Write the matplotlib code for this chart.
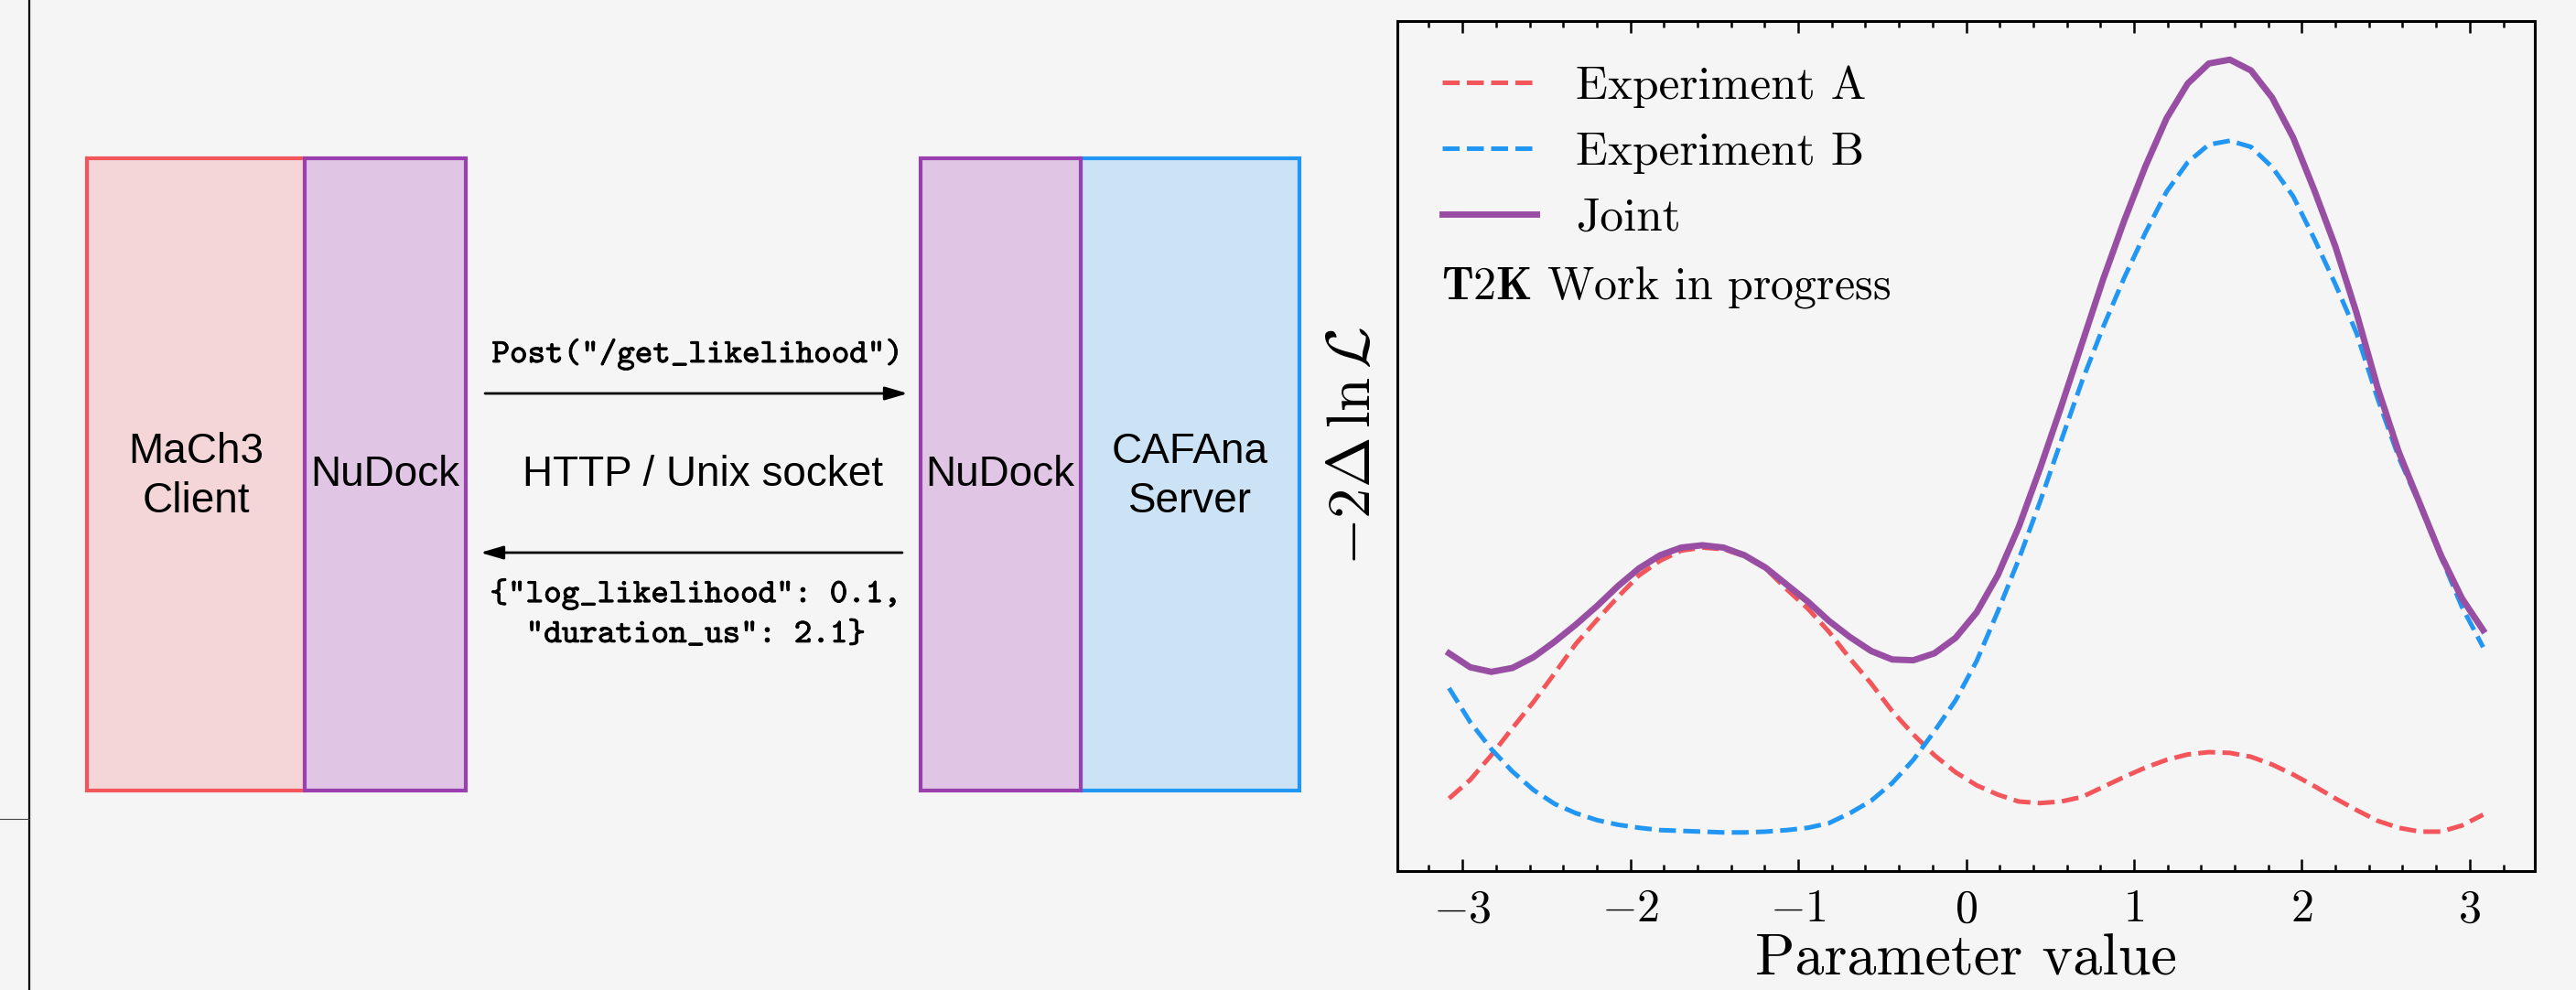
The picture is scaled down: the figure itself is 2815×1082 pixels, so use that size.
import numpy as np
import matplotlib
matplotlib.use("Agg")
import matplotlib.pyplot as plt
import matplotlib.patheffects as pe
from matplotlib.patches import Rectangle
from matplotlib.ticker import MultipleLocator

plt.rcParams['mathtext.fontset'] = 'cm'
plt.rcParams['font.family'] = 'serif'
plt.rcParams['font.serif'] = ['cmr10']
plt.rcParams['axes.formatter.use_mathtext'] = True

# -2 delta lnL profiles
param = np.linspace(-3.08, 3.08, 50)
exp_a = [0.45, 0.69, 1.01, 1.36, 1.70, 2.07, 2.45, 2.76, 3.06, 3.34,
         3.53, 3.66, 3.70, 3.68, 3.59, 3.43, 3.16, 2.91, 2.61, 2.26,
         1.94, 1.58, 1.28, 1.01, 0.79, 0.62, 0.50, 0.41, 0.39, 0.41,
         0.47, 0.60, 0.73, 0.85, 0.95, 1.02, 1.05, 1.04, 0.99, 0.89,
         0.76, 0.61, 0.45, 0.30, 0.16, 0.07, 0.02, 0.02, 0.10, 0.24]
exp_b = [1.88, 1.44, 1.09, 0.80, 0.56, 0.38, 0.26, 0.17, 0.11, 0.07,
         0.04, 0.03, 0.02, 0.01, 0.01, 0.02, 0.04, 0.07, 0.13, 0.26,
         0.42, 0.65, 0.95, 1.32, 1.72, 2.23, 2.87, 3.55, 4.29, 5.08,
         5.86, 6.56, 7.20, 7.78, 8.31, 8.69, 8.92, 8.97, 8.89, 8.63,
         8.25, 7.70, 7.11, 6.48, 5.63, 4.87, 4.25, 3.58, 2.93, 2.41]
joint = [2.33, 2.15, 2.09, 2.14, 2.28, 2.48, 2.70, 2.94, 3.20, 3.43,
         3.60, 3.70, 3.73, 3.70, 3.60, 3.44, 3.22, 3.00, 2.75, 2.54,
         2.36, 2.25, 2.24, 2.33, 2.53, 2.86, 3.34, 3.97, 4.72, 5.52,
         6.35, 7.18, 7.94, 8.64, 9.26, 9.71, 9.97, 10.02, 9.88, 9.53,
         9.01, 8.33, 7.60, 6.74, 5.77, 4.94, 4.27, 3.60, 3.04, 2.63]

# diagram texts
client_label = "MaCh3\nClient"
server_label = "CAFAna\nServer"
dock_label = "NuDock"
link_label = "HTTP / Unix socket"
request_text = 'Post("/get_likelihood")'
reply_text = '{"log_likelihood": 0.1,\n"duration_us": 2.1}'

bg = '#f5f5f5'
red = '#f2555a'
blue = '#2196f3'
purple = '#984ea3'

W, H = 2815, 1082
fig = plt.figure(figsize=(W / 200, H / 200), dpi=200, facecolor=bg)

# ---- diagram, drawn in pixel coordinates ----
diag = fig.add_axes([0, 0, 1, 1])
diag.set_xlim(0, W)
diag.set_ylim(H, 0)
diag.axis('off')

diag.plot([32, 32], [0, H], color='black', lw=0.8)
diag.plot([0, 32], [895, 895], color='#444444', lw=0.4)

boxes = [
    (95, 333, '#f4d6d8', red),
    (333, 509, '#e1c5e5', '#9a3fb0'),
    (1181, 1420, '#cce3f6', blue),
    (1006, 1181, '#e1c5e5', '#9a3fb0'),
]
for x0, x1, fc, ec in boxes:
    diag.add_patch(Rectangle((x0, 173), x1 - x0, 864 - 173, facecolor=fc,
                             edgecolor=ec, lw=1.5))

sans = dict(family='Liberation Sans', fontsize=16.5, ha='center', va='center')
diag.text(214, 521, client_label, linespacing=1.3, **sans)
diag.text(421, 519, dock_label, **sans)
diag.text(768, 519, link_label, **sans)
diag.text(1093, 519, dock_label, **sans)
diag.text(1300, 521, server_label, linespacing=1.3, **sans)

bold = [pe.withStroke(linewidth=0.3, foreground='black')]
mono = dict(family='cmtt10', fontsize=13.4, ha='center', va='center',
            path_effects=bold)
diag.text(762, 387, request_text, **mono)
diag.text(760, 671, reply_text, linespacing=1.45, **mono)

arrow = dict(arrowstyle='-|>,head_length=0.75,head_width=0.22', color='black',
             lw=1.0, mutation_scale=10, shrinkA=0, shrinkB=0)
diag.annotate('', xy=(992, 430), xytext=(530, 430), arrowprops=arrow)
diag.annotate('', xy=(525, 604), xytext=(986, 604), arrowprops=arrow)

# ---- likelihood profile ----
ax = fig.add_axes([1527 / W, 1 - 952 / H, 1243 / W, 929 / H])
ax.set_facecolor(bg)
ax.plot(param, exp_a, '--', color=red, lw=1.8, label='Experiment A')
ax.plot(param, exp_b, '--', color=blue, lw=1.8, label='Experiment B')
ax.plot(param, joint, '-', color=purple, lw=2.5, label='Joint')

ax.legend(loc='upper left', frameon=False, fontsize=18.5, handlelength=2.0,
          handletextpad=0.85, labelspacing=0.5, borderaxespad=0.55)
ax.text(0.039, 0.687, r'$\mathbf{T2K}$ Work in progress', transform=ax.transAxes,
        fontsize=18, ha='left', va='center')

ax.xaxis.set_major_locator(MultipleLocator(1))
ax.xaxis.set_minor_locator(MultipleLocator(0.2))
ax.set_yticks([])
ax.tick_params(axis='x', which='both', direction='in', top=True, labelsize=18,
               pad=7)
ax.tick_params(axis='x', which='major', length=4.8, width=0.9)
ax.tick_params(axis='x', which='minor', length=2.5, width=0.9)
for s in ax.spines.values():
    s.set_linewidth(1.1)

ax.set_xlabel('Parameter value', fontsize=23, labelpad=1)
ax.set_ylabel(r'$-2\Delta\,\ln\mathcal{L}$', fontsize=24, labelpad=6)

fig.savefig('out.png', dpi=200, facecolor=bg)
